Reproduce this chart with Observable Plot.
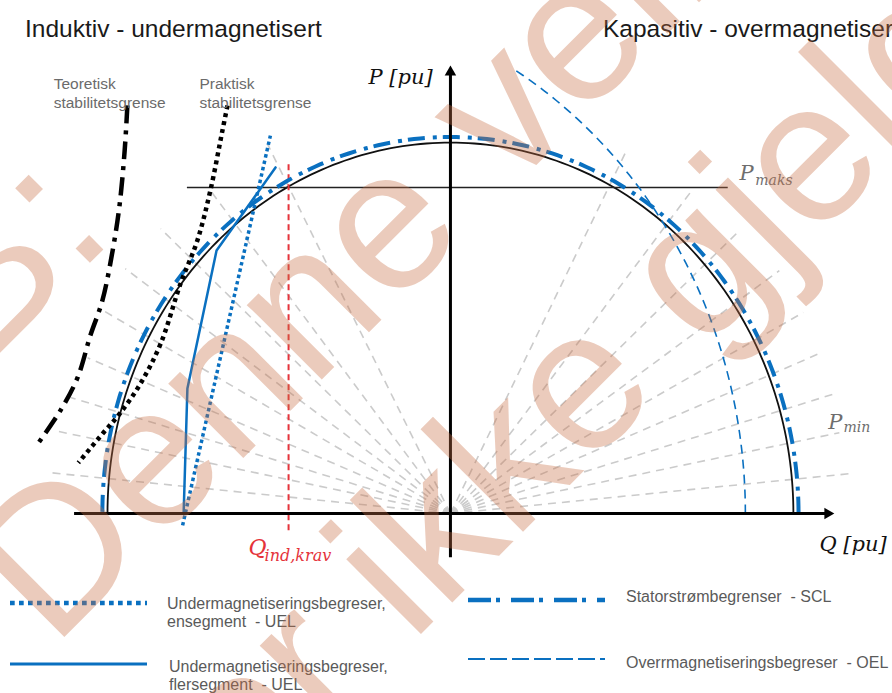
<!DOCTYPE html>
<html>
<head>
<meta charset="utf-8">
<script src="https://cdn.jsdelivr.net/npm/d3@7"></script>
<script src="https://cdn.jsdelivr.net/npm/@observablehq/plot@0.6"></script>
<style>
  body { margin: 0; background: #fff; overflow: hidden; }
  #wrap { position: relative; width: 892px; height: 693px; overflow: hidden; font-family: "Liberation Sans", Arial, sans-serif; }
  .title { position: absolute; top: 17px; font-size: 24.5px; line-height: 1; color: #1a1a1a; white-space: nowrap; }
  .leg { position: absolute; font-size: 16px; line-height: 17.5px; color: #5a5a5a; white-space: pre; }
  .sw { position: absolute; overflow: visible; }
  #chart { position: absolute; left: 0; top: 0; }
  #chart svg { background: transparent !important; overflow: visible; }
</style>
</head>
<body>
<div id="wrap">
  <div id="titles"></div>
  <div id="legend"></div>
  <div id="chart"></div>
</div>
<script>
// ---------------- Data (per unit) ----------------
const qDomain = [-1.312, 1.289];
const pDomain = [-0.485, 1.383];

const qAxisExtent = [-1.096, 1.10];
const pAxisExtent = [-0.119, 1.19];

// circles: centre on Q axis, radius, angle range (degrees)
const statorArc = {c: 0, r: 1.0, from: 0, to: 180};
const sclArc = {c: 0, r: 1.015, from: 0, to: 180};
const oelArc = {c: -0.54, r: 1.40, from: 0, to: 58.5};

// stability limits
const theoQ = [-0.942, -0.950, -0.965, -0.985, -1.015, -1.050, -1.087, -1.137, -1.201];
const theoP = [1.100, 0.978, 0.830, 0.709, 0.574, 0.480, 0.367, 0.278, 0.191];
const practQ = [-0.650, -0.665, -0.700, -0.738, -0.787, -0.845, -0.904, -0.962, -1.012, -1.085];
const practP = [1.100, 1.032, 0.871, 0.736, 0.620, 0.458, 0.350, 0.272, 0.218, 0.137];

// under-excitation limiters
const uelSingleQ = [-0.781, -0.525];
const uelSingleP = [-0.032, 1.019];
const uelMultiQ = [-0.778, -0.767, -0.682, -0.510];
const uelMultiP = [0, 0.337, 0.709, 0.933];

// P maks line and Q ind,krav line
const pMaks = 0.879;
const pMaksSpan = [-0.767, 0.810];
const qIndKrav = -0.472;
const qIndKravSpan = [-0.046, 0.943];

// radial (load-angle) guide lines: end points
const radialQ = [0.513, 0.708, 0.843, 0.959, 1.029, 1.082, 1.120, 1.134, 1.169,
                 -0.534, -0.700, -0.845, -0.948, -1.012, -1.058, -1.108, -1.157, -1.175];
const radialP = [0.978, 0.876, 0.763, 0.655, 0.542, 0.434, 0.323, 0.218, 0.108,
                 0.997, 0.871, 0.768, 0.660, 0.547, 0.420, 0.313, 0.224, 0.111];

// texts
const titleLeft = "Induktiv - undermagnetisert";
const titleRight = "Kapasitiv - overmagnetisert";
const curveLabelText = ["Teoretisk\nstabilitetsgrense", "Praktisk\nstabilitetsgrense"];
const curveLabelQ = [-1.157, -0.732];
const curveLabelP = [1.094, 1.094];
const legendLabels = [
  "Undermagnetiseringsbegreser,\nensegment  - UEL",
  "Undermagnetiseringsbegreser,\nflersegment  - UEL",
  "Statorstrømbegrenser  - SCL",
  "Overrmagnetiseringsbegreser  - OEL"
];
// watermark: line ending at anchor, then lines starting at anchor
const watermarkHead = ["NB:"];
const watermarkHeadQ = [-0.974];
const watermarkHeadP = [0.747];
const watermarkText = ["Denne veilederen", "er ikke gjeldende"];
const watermarkQ = [-1.160, -0.595];
const watermarkP = [-0.364, -0.795];

// ---------------- Build ----------------
const blue = "#0a70c0";
const red = "#e5333b";
const gray = "#6e6e6e";

function arcPoints({c, r, from, to}) {
  const n = Math.ceil(to - from);
  return d3.range(n + 1).map(i => {
    const a = (from + (to - from) * i / n) * Math.PI / 180;
    return {q: c + r * Math.cos(a), p: r * Math.sin(a)};
  });
}
const zip = (Q, P) => Q.map((q, i) => ({q, p: P[i]}));

const radial = zip(radialQ, radialP);
const math = "DejaVu Serif";
const wm = {lineAnchor: "bottom", rotate: -45, fontSize: 200, fontFamily: "Liberation Sans", fill: "rgb(200,110,70)", fillOpacity: 0.36};

const chart = Plot.plot({
  width: 892, height: 693,
  marginTop: 0, marginRight: 0, marginBottom: 0, marginLeft: 0,
  x: {domain: qDomain, axis: null},
  y: {domain: pDomain, axis: null},
  style: {background: "transparent", overflow: "visible"},
  marks: [
    Plot.link(radial, {x1: () => 0, y1: () => 0, x2: "q", y2: "p", stroke: "#cbcbcb", strokeWidth: 1.6, strokeDasharray: "8,6", strokeLinecap: "butt"}),
    Plot.line(arcPoints(statorArc), {x: "q", y: "p", stroke: "#111", strokeWidth: 1.8}),
    Plot.ruleY([pMaks], {x1: pMaksSpan[0], x2: pMaksSpan[1], stroke: "#222", strokeWidth: 1.7}),
    Plot.ruleX([qIndKrav], {y1: qIndKravSpan[0], y2: qIndKravSpan[1], stroke: red, strokeWidth: 2, strokeDasharray: "6,4"}),
    Plot.line(arcPoints(oelArc), {x: "q", y: "p", stroke: blue, strokeWidth: 1.6, strokeDasharray: "9,6", strokeLinecap: "butt"}),
    Plot.line(arcPoints(sclArc), {x: "q", y: "p", stroke: blue, strokeWidth: 4, strokeDasharray: "17,6,4,8", strokeLinecap: "butt"}),
    Plot.line(zip(theoQ, theoP), {x: "q", y: "p", curve: "catmull-rom", stroke: "#000", strokeWidth: 4.5, strokeDasharray: "18,7,4,7", strokeLinecap: "butt"}),
    Plot.line(zip(practQ, practP), {x: "q", y: "p", curve: "catmull-rom", stroke: "#000", strokeWidth: 4.5, strokeDasharray: "4,4", strokeLinecap: "butt"}),
    Plot.line(zip(uelSingleQ, uelSingleP), {x: "q", y: "p", stroke: blue, strokeWidth: 3.5, strokeDasharray: "3.5,3", strokeLinecap: "butt"}),
    Plot.line(zip(uelMultiQ, uelMultiP), {x: "q", y: "p", stroke: blue, strokeWidth: 2.5}),
    // axes
    Plot.ruleY([0], {x1: qAxisExtent[0], x2: qAxisExtent[1], stroke: "#000", strokeWidth: 3}),
    Plot.ruleX([0], {y1: pAxisExtent[0], y2: pAxisExtent[1], stroke: "#000", strokeWidth: 3}),
    Plot.dot([{q: qAxisExtent[1], p: 0}], {x: "q", y: "p", symbol: "triangle2", r: 5.5, fill: "#000", rotate: 90}),
    Plot.dot([{q: 0, p: pAxisExtent[1]}], {x: "q", y: "p", symbol: "triangle2", r: 5.5, fill: "#000"}),
    // labels
    Plot.text(curveLabelText, {x: (d, i) => curveLabelQ[i], y: (d, i) => curveLabelP[i], text: d => d, textAnchor: "start", lineAnchor: "bottom", lineHeight: 1.23, fontSize: 15.5, fontFamily: "Liberation Sans", fill: "#6b6b6b"}),
    Plot.text(["P [pu]"], {x: () => -0.052, y: () => 1.159, text: d => d, textAnchor: "end", lineAnchor: "bottom", fontSize: 21, fontStyle: "italic", fontFamily: math, fill: "#111"}),
    Plot.text(["Q [pu]"], {x: () => 1.076, y: () => -0.100, text: d => d, textAnchor: "start", lineAnchor: "bottom", fontSize: 21, fontStyle: "italic", fontFamily: math, fill: "#111"}),
    Plot.text(["Q"], {x: () => -0.589, y: () => -0.111, text: d => d, textAnchor: "start", lineAnchor: "bottom", fontSize: 22, fontStyle: "italic", fontFamily: math, fill: red}),
    Plot.text(["ind,krav"], {x: () => -0.542, y: () => -0.127, text: d => d, textAnchor: "start", lineAnchor: "bottom", fontSize: 16, fontStyle: "italic", fontFamily: math, fill: red}),
    Plot.text(["P"], {x: () => 0.843, y: () => 0.898, text: d => d, textAnchor: "start", lineAnchor: "bottom", fontSize: 21, fontStyle: "italic", fontFamily: math, fill: gray}),
    Plot.text(["maks"], {x: () => 0.889, y: () => 0.887, text: d => d, textAnchor: "start", lineAnchor: "bottom", fontSize: 14, fontStyle: "italic", fontFamily: math, fill: gray}),
    Plot.text(["P"], {x: () => 1.102, y: () => 0.229, text: d => d, textAnchor: "start", lineAnchor: "bottom", fontSize: 21, fontStyle: "italic", fontFamily: math, fill: gray}),
    Plot.text(["min"], {x: () => 1.146, y: () => 0.221, text: d => d, textAnchor: "start", lineAnchor: "bottom", fontSize: 14, fontStyle: "italic", fontFamily: math, fill: gray}),
    // watermark
    Plot.text(watermarkHead, {...wm, x: (d, i) => watermarkHeadQ[i], y: (d, i) => watermarkHeadP[i], text: d => d, textAnchor: "end"}),
    Plot.text(watermarkText, {...wm, x: (d, i) => watermarkQ[i], y: (d, i) => watermarkP[i], text: d => d, textAnchor: "start"})
  ]
});
document.getElementById("chart").appendChild(chart);

// titles
const titles = document.getElementById("titles");
[[titleLeft, 25], [titleRight, 603]].forEach(([t, left]) => {
  const d = document.createElement("div");
  d.className = "title"; d.style.left = left + "px"; d.textContent = t;
  titles.appendChild(d);
});

// legend
const legendStyle = [
  {dash: "4.7,4.3", w: 4.3, x: 10, y: 602.5, tx: 167, ty: 595},
  {dash: null, w: 3, x: 10, y: 664, tx: 169, ty: 658},
  {dash: "23,5,4,11", w: 4.3, x: 468, y: 600, tx: 626, ty: 587.5},
  {dash: "17,5", w: 2, x: 468, y: 659, tx: 626, ty: 654}
];
const legend = document.getElementById("legend");
legendLabels.forEach((label, i) => {
  const s = legendStyle[i];
  const svg = d3.create("svg").attr("class", "sw").attr("width", 137).attr("height", 10)
    .style("left", s.x + "px").style("top", (s.y - 5) + "px");
  svg.append("line").attr("x1", 0).attr("x2", 137).attr("y1", 5).attr("y2", 5)
    .attr("stroke", blue).attr("stroke-width", s.w).attr("stroke-dasharray", s.dash);
  legend.appendChild(svg.node());
  const t = document.createElement("div");
  t.className = "leg"; t.style.left = s.tx + "px"; t.style.top = s.ty + "px"; t.textContent = label;
  legend.appendChild(t);
});
</script>
</body>
</html>
